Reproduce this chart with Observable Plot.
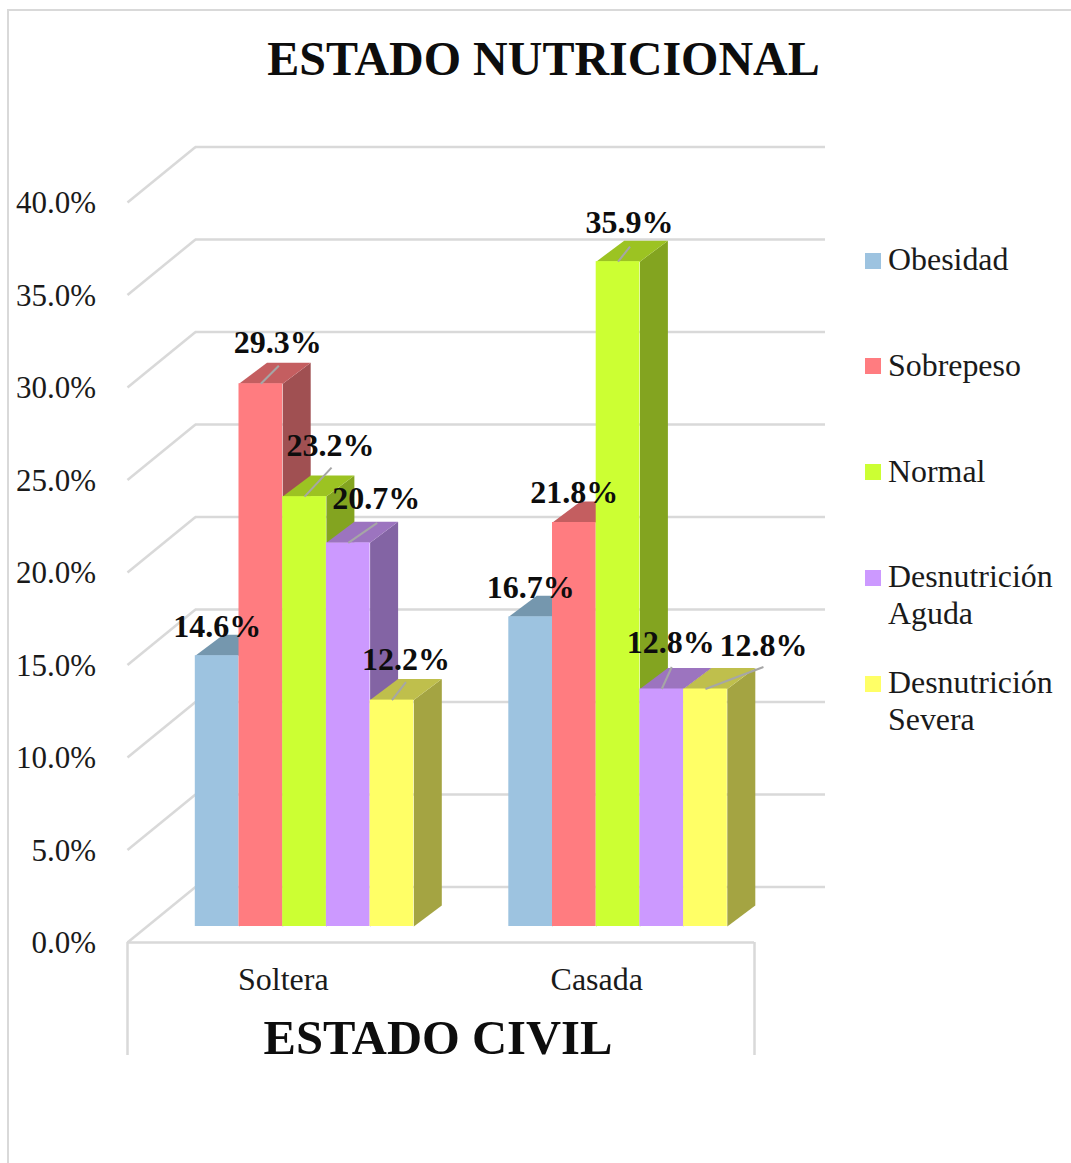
<!DOCTYPE html>
<html lang="es">
<head>
<meta charset="utf-8">
<title>Estado nutricional</title>
<script src="https://cdn.jsdelivr.net/npm/d3@7"></script>
<script src="https://cdn.jsdelivr.net/npm/@observablehq/plot@0.6"></script>
<style>
  html, body { margin: 0; padding: 0; background: #fff; }
  #page { position: relative; width: 1071px; height: 1163px; overflow: hidden; font-family: "Liberation Serif", serif; color: #0d0d0d; }
  #border { position: absolute; left: 7px; top: 9px; right: -4px; bottom: -4px; border-left: 2px solid #d9d9d9; border-top: 2px solid #d9d9d9; }
  #title { position: absolute; left: 0; width: 1087px; top: 31px; text-align: center; font-size: 48px; font-weight: 700; line-height: 55px; }
  .item { position: absolute; left: 865px; width: 200px; display: flex; align-items: flex-start; font-size: 31.9px; line-height: 37px; color: #1a1a1a; }
  .sw { flex: none; width: 16px; height: 16px; margin: 11.5px 7px 0 0; }
  #page svg { position: absolute; left: 0; top: 0; }
</style>
</head>
<body>
<div id="page">
  <div id="border"></div>
  <div id="title">ESTADO NUTRICIONAL</div>
</div>
<script>
// Data
const categories = ["Soltera", "Casada"];
const series = ["Obesidad", "Sobrepeso", "Normal", "Desnutrición Aguda", "Desnutrición Severa"];
const soltera = [14.6, 29.3, 23.2, 20.7, 12.2];
const casada = [16.7, 21.8, 35.9, 12.8, 12.8];
const yTicks = [0, 5, 10, 15, 20, 25, 30, 35, 40];

// Colours per series
const frontColors = ["#9dc3e0", "#ff7c80", "#ccff33", "#cc99ff", "#ffff66"];
const topColors = ["#7597ae", "#c45e60", "#9cc322", "#9c74bf", "#bfbf4c"];
const sideColors = ["#6f8ea6", "#a05052", "#83a420", "#8364a4", "#a4a442"];

// Label and leader placement, in pixels from the top centre of each bar's front face
const labelOffsets = [[0,-28.5],[17,-41],[26,-51],[28,-44],[14,-40],[0,-29.5],[0,-30],[11.5,-38.5],[9,-46],[58,-43]];
const leaderOffsets = [null,[18,-18],[27,-29],[29,-20],[14,-18],null,null,[12,-15],[10,-22],[58,-22]];

// Oblique projection constants, in scale units
const width = 1071, height = 1163;
const mL = 127, mR = 317, mT = 202, mB = 221;
const pxX = 2 / (width - mL - mR), pxY = 40 / (height - mT - mB);
const wallDx = 68 * pxX, wallDy = 55.5 * pxY;   // depth of the chart box
const planeDx = 20.3 * pxX, planeDy = 16 * pxY; // front plane of the bars
const barW = 43.7 * pxX;
const barDx = 28 * pxX, barDy = 21 * pxY;       // depth of a bar
const gridEnd = 2 + 71 * pxX;
const raise = 0.7 * pxY;                        // the tops sit slightly above the base plane

const bars = [soltera, casada].flatMap((vals, c) => vals.map((v, k) => {
  const x1 = c + 0.5 + planeDx + (k - 2.5) * barW;
  return {category: categories[c], series: series[k], k, value: v, x1, x2: x1 + barW, xc: x1 + barW / 2,
          top: v + planeDy + raise, base: planeDy};
}));
bars.forEach((b, i) => { b.label = labelOffsets[i]; b.leader = leaderOffsets[i]; });

const poly = {x: "x", y: "y", stroke: null};
const topFace = b => [
  {x: b.x1, y: b.top}, {x: b.x2, y: b.top},
  {x: b.x2 + barDx, y: b.top + barDy}, {x: b.x1 + barDx, y: b.top + barDy}];
const sideFace = b => [
  {x: b.x2, y: b.base}, {x: b.x2, y: b.top},
  {x: b.x2 + barDx, y: b.top + barDy}, {x: b.x2 + barDx, y: b.base + barDy}];

const grid = "#d9d9d9";
const chart = Plot.plot({
  width, height,
  marginLeft: mL, marginRight: mR, marginTop: mT, marginBottom: mB,
  x: {domain: [0, 2]},
  y: {domain: [0, 40]},
  style: {fontFamily: "Liberation Serif", background: "transparent", color: "#1a1a1a", overflow: "visible"},
  marks: [
    // back wall
    Plot.ruleY(yTicks, {y: d => d + wallDy, x1: wallDx, x2: gridEnd, stroke: grid, strokeWidth: 2.5}),
    Plot.link(yTicks, {x1: 0, y1: d => d, x2: wallDx, y2: d => d + wallDy, stroke: grid, strokeWidth: 2.5}),
    // axis box
    Plot.ruleY([0], {x1: 0, x2: 2, stroke: grid, strokeWidth: 2.5}),
    Plot.ruleX([0, 2], {y1: 0, y2: -113 * pxY, stroke: grid, strokeWidth: 2.5}),
    // bars: tops and sides from left to right, then the front faces
    ...bars.flatMap(b => [
      Plot.line(sideFace(b), {...poly, fill: sideColors[b.k]}),
      Plot.line(topFace(b), {...poly, fill: topColors[b.k]})
    ]),
    ...bars.map(b => Plot.rect([b], {x1: "x1", x2: "x2", y1: "base", y2: "top", fill: frontColors[b.k]})),
    // leaders and labels
    Plot.link(bars.filter(b => b.leader), {
      x1: "xc", y1: "top",
      x2: b => b.xc + b.leader[0] * pxX, y2: b => b.top + b.leader[1] * -pxY,
      stroke: "#a6a6a6", strokeWidth: 2
    }),
    Plot.text(bars, {
      x: b => b.xc + b.label[0] * pxX,
      y: b => b.top + b.label[1] * -pxY,
      text: b => b.value.toFixed(1) + "%",
      fontSize: 32, fontWeight: 700, fill: "#0d0d0d"
    }),
    // axes
    Plot.axisY(yTicks, {anchor: "left", label: null, tickSize: 0, tickPadding: 31, dx: -0.5, dy: 1, fontSize: 31, tickFormat: d => d.toFixed(1) + "%"}),
    Plot.axisX([0.5, 1.5], {anchor: "bottom", label: null, tickSize: 0, tickPadding: 25, dx: -1, fontSize: 32, tickFormat: d => categories[Math.floor(d)]}),
    Plot.text(["ESTADO CIVIL"], {frameAnchor: "bottom", dx: -3, dy: 111, fontSize: 48.6, fontWeight: 700, fill: "#0d0d0d"})
  ]
});
const page = document.getElementById("page");
page.appendChild(chart);

// Legend
series.forEach((name, i) => {
  const item = document.createElement("div");
  item.className = "item";
  item.style.top = (259.5 + 105.8 * i - 18.5) + "px";
  const sw = document.createElement("span");
  sw.className = "sw";
  sw.style.background = frontColors[i];
  const label = document.createElement("span");
  label.innerHTML = name.replace(" ", "<br>");
  item.append(sw, label);
  page.appendChild(item);
});
</script>
</body>
</html>
